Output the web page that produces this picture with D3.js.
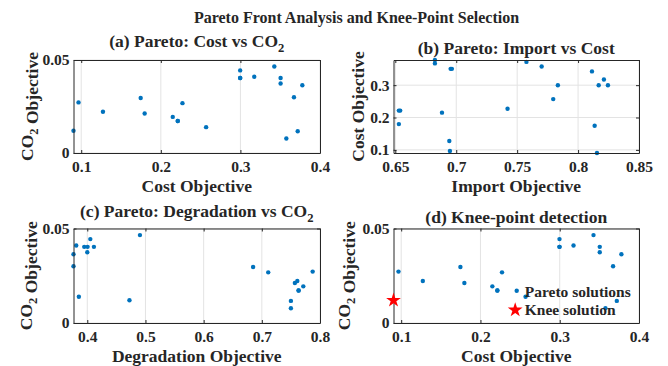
<!DOCTYPE html>
<html>
<head>
<meta charset="utf-8">
<script src="https://cdn.jsdelivr.net/npm/d3@7"></script>
<style>
  body { margin: 0; background: #fff; }
  text { font-family: "Liberation Serif", "Times New Roman", serif; font-weight: bold; fill: #262626; }
</style>
</head>
<body>
<svg id="chart" width="668" height="366"></svg>
<script>
// one entry per pareto solution
const cost = [0.3778, 0.3673, 0.3505, 0.3505, 0.2213, 0.2213, 0.215, 0.1797, 0.1273, 0.0966, 0.0903,
  0.2272, 0.372, 0.3577, 0.2569, 0.2997, 0.3426, 0.3174, 0.2997, 0.2997, 0.1747]
const co2 = [0.0364, 0.0300, 0.0374, 0.0403, 0.0172, 0.0172, 0.0194, 0.0212, 0.0222, 0.0272, 0.0120,
  0.0268, 0.0117, 0.0078, 0.0139, 0.0444, 0.0465, 0.0410, 0.0403, 0.0403, 0.0296]
const importObj = [0.6825, 0.6825, 0.6954, 0.6964, 0.6529, 0.6540, 0.6883, 0.6529, 0.6943, 0.6948, 0.8155,
  0.7421, 0.7576, 0.7701, 0.7796, 0.7834, 0.8114, 0.8212, 0.8169, 0.8245, 0.8136]
const degradation = [0.3763, 0.3763, 0.4000, 0.3948, 0.7632, 0.7632, 0.7713, 0.7568, 0.7610, 0.7874, 0.4725,
  0.7110, 0.7500, 0.7500, 0.3855, 0.4052, 0.4905, 0.3810, 0.4005, 0.4114, 0.6850]
const kneeIndex = 10

// axis limits and ticks
const importLimits = [0.6485, 0.85]
const costTicks = [0.1, 0.2, 0.3, 0.4]
const costTicksY = [0.1, 0.2, 0.3]
const co2Ticks = [0, 0.05]
const importTicks = [0.65, 0.7, 0.75, 0.8, 0.85]
const degTicks = [0.4, 0.5, 0.6, 0.7, 0.8]

const CO2_LABEL = [["CO"], ["2", true], [" Objective"]]

const svg = d3.select("#chart")
const cols = [[73.5, 320], [393.5, 639]]
const rows = [[60, 153], [228.5, 323]]
const fmt = d3.format("~g")

// text with optional subscript parts
function richText(sel, parts, size) {
  parts.forEach(([t, sub]) => {
    sel.append("tspan")
      .attr("dy", sub ? size * 0.3 : 0)
      .style("font-size", sub ? `${size * 0.72}px` : null)
      .text(t)
    if (sub) sel.append("tspan").attr("dy", -size * 0.3).text("")
  })
  return sel
}

const panels = [
  { col: 0, row: 0, xs: cost, ys: co2, xDom: [d3.min(cost), 0.4], yDom: [0, 0.05],
    xTicks: costTicks, yTicks: co2Ticks, title: [["(a) Pareto: Cost vs CO"], ["2", true]],
    xLabel: "Cost Objective", yLabel: CO2_LABEL, titleGap: 13.5, yGap: 41 },
  { col: 1, row: 0, xs: importObj, ys: cost, xDom: importLimits, yDom: d3.extent(cost),
    xTicks: importTicks, yTicks: costTicksY, title: [["(b) Pareto: Import vs Cost"]],
    xLabel: "Import Objective", yLabel: [["Cost Objective"]], titleGap: 6, yGap: 30 },
  { col: 0, row: 1, xs: degradation, ys: co2, xDom: [d3.min(degradation), 0.8], yDom: [0, 0.05],
    xTicks: degTicks, yTicks: co2Ticks, title: [["(c) Pareto: Degradation vs CO"], ["2", true]],
    xLabel: "Degradation Objective", yLabel: CO2_LABEL, titleGap: 12, yGap: 42 },
  { col: 1, row: 1, xs: cost, ys: co2, xDom: [d3.min(cost), 0.4], yDom: [0, 0.05],
    xTicks: costTicks, yTicks: co2Ticks, title: [["(d) Knee-point detection"]],
    xLabel: "Cost Objective", yLabel: CO2_LABEL, titleGap: 5.5, yGap: 44, knee: true }
]

for (const p of panels) {
  const [x0, x1] = cols[p.col]
  const [y0, y1] = rows[p.row]
  const x = d3.scaleLinear().domain(p.xDom).range([x0, x1])
  const y = d3.scaleLinear().domain(p.yDom).range([y1, y0])
  const g = svg.append("g")

  // grid
  g.selectAll(".gx").data(p.xTicks).enter().append("line")
    .attr("x1", d => x(d)).attr("x2", d => x(d)).attr("y1", y0).attr("y2", y1)
    .attr("stroke", "#e3e3e3").attr("stroke-width", 1)
  g.selectAll(".gy").data(p.yTicks).enter().append("line")
    .attr("y1", d => y(d)).attr("y2", d => y(d)).attr("x1", x0).attr("x2", x1)
    .attr("stroke", "#e3e3e3").attr("stroke-width", 1)

  // points
  g.selectAll("circle").data(p.xs.map((v, i) => [v, p.ys[i]])).enter().append("circle")
    .attr("cx", d => x(d[0])).attr("cy", d => y(d[1])).attr("r", 2.2)
    .attr("fill", "#0072BD")

  // box with inward ticks
  const axes = [
    [d3.axisBottom(x).tickValues(p.xTicks).tickFormat(fmt).tickPadding(7.5), `translate(0,${y1})`],
    [d3.axisTop(x).tickValues(p.xTicks).tickFormat(""), `translate(0,${y0})`],
    [d3.axisLeft(y).tickValues(p.yTicks).tickFormat(fmt).tickPadding(4), `translate(${x0},0)`],
    [d3.axisRight(y).tickValues(p.yTicks).tickFormat(""), `translate(${x1},0)`]
  ]
  for (const [ax, tr] of axes) {
    const a = g.append("g").attr("transform", tr)
      .call(ax.tickSizeInner(-3).tickSizeOuter(0))
    a.attr("font-family", null).attr("font-size", null)
    a.selectAll("path, line").attr("stroke", "#262626")
    a.selectAll("text").attr("fill", "#262626").style("font-size", "15.5px")
  }

  // titles and labels
  richText(g.append("text").attr("x", (x0 + x1) / 2).attr("y", y0 - p.titleGap)
    .attr("text-anchor", "middle").style("font-size", "17.5px"), p.title, 17.5)
  g.append("text").attr("x", (x0 + x1) / 2).attr("y", y1 + 38.5)
    .attr("text-anchor", "middle").style("font-size", "17.5px").text(p.xLabel)
  richText(g.append("text")
    .attr("transform", `translate(${x0 - p.yGap},${(y0 + y1) / 2}) rotate(-90)`)
    .attr("text-anchor", "middle").style("font-size", "17.5px"), p.yLabel, 17.5)

  if (p.knee) {
    const star = d3.symbol(d3.symbolStar, 68)
    g.append("path").attr("d", star)
      .attr("transform", `translate(${x(cost[kneeIndex])},${y(co2[kneeIndex])})`)
      .attr("fill", "#ff0000")

    // legend
    const lg = g.append("g").attr("transform", `translate(${x1 - 122.3},${y1 - 32.3})`)
    lg.append("circle").attr("r", 2.2).attr("fill", "#0072BD")
    lg.append("text").attr("x", 8).attr("y", 5.8).style("font-size", "15.5px").text("Pareto solutions")
    lg.append("path").attr("d", star).attr("transform", "translate(-1.5,19.3)").attr("fill", "#ff0000")
    lg.append("text").attr("x", 8).attr("y", 24.5).style("font-size", "15.5px").text("Knee solution")
  }
}

// figure title
svg.append("text").attr("x", 356.5).attr("y", 22.5).attr("text-anchor", "middle")
  .style("font-size", "16px").text("Pareto Front Analysis and Knee-Point Selection")
</script>
</body>
</html>
